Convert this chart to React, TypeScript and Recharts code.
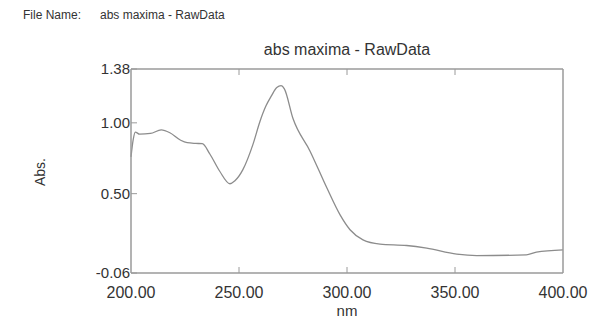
import { LineChart, Line, XAxis, YAxis } from "recharts";

const wavelengths = [
  200, 201, 202, 204, 209, 214, 218, 223, 226, 230, 233, 236.5, 241, 245.8, 248,
  251.8, 256.5, 259.7, 262.5, 265, 267.5, 269.5, 271, 275, 282.9, 290.6, 296.8,
  301.4, 307.4, 315.3, 327.6, 336.9, 350.8, 360, 383, 387.7, 400,
];
const absorbance = [
  0.76, 0.88, 0.935, 0.92, 0.925, 0.95, 0.93, 0.877, 0.86, 0.855, 0.853, 0.78, 0.66,
  0.57, 0.59, 0.67, 0.85, 1.01, 1.12, 1.19, 1.25, 1.262, 1.24, 1.03, 0.8, 0.543,
  0.35, 0.245, 0.174, 0.144, 0.134, 0.115, 0.073, 0.063, 0.068, 0.087, 0.103,
];
const xTicks = [200, 250, 300, 350, 400];
const yTicks = [-0.06, 0.5, 1.0, 1.38];

const data = wavelengths.map((nm, i) => ({ nm, abs: absorbance[i] }));

const GRAY = "#8c8c8c";
const FRAME = "#9a9a9a";
const FONT = "Liberation Sans, Arial, sans-serif";

const BottomTick = (props: any) => {
  const { x, y, payload } = props;
  const inner = payload.value !== 200 && payload.value !== 400;
  return (
    <g>
      {inner && <line x1={x} y1={y} x2={x} y2={y - 6} stroke={FRAME} />}
      <text x={x} y={y + 25} textAnchor="middle" fontSize={16} fill="#333" fontFamily={FONT}>
        {payload.value.toFixed(2)}
      </text>
    </g>
  );
};

const TopTick = (props: any) => {
  const { x, y, payload } = props;
  if (payload.value === 200 || payload.value === 400) return <g />;
  return <line x1={x} y1={y} x2={x} y2={y + 6} stroke={FRAME} />;
};

const LeftTick = (props: any) => {
  const { x, y, payload } = props;
  return (
    <g>
      <line x1={x} y1={y} x2={x + 6} y2={y} stroke={FRAME} />
      <text x={x - 1} y={y + 5} textAnchor="end" fontSize={15} fill="#333" fontFamily={FONT}>
        {payload.value.toFixed(2)}
      </text>
    </g>
  );
};

const RightTick = (props: any) => {
  const { x, y } = props;
  return <line x1={x} y1={y} x2={x - 6} y2={y} stroke={FRAME} />;
};

export default function App() {
  return (
    <div style={{ position: "absolute", left: 0, top: 0, width: 605, height: 325, background: "#fff", fontFamily: FONT }}>
      <svg width={605} height={325} style={{ position: "absolute", left: 0, top: 0 }}>
        <text x={23} y={19} fontSize={12} fill="#333" fontFamily={FONT}>File Name:</text>
        <text x={100} y={19} fontSize={12} fill="#333" fontFamily={FONT}>abs maxima - RawData</text>
        <text x={347} y={55} textAnchor="middle" fontSize={16} fill="#333" fontFamily={FONT}>
          abs maxima - RawData
        </text>
        <text
          x={45}
          y={172}
          textAnchor="middle"
          fontSize={14}
          fill="#333"
          fontFamily={FONT}
          transform="rotate(-90 45 172)"
        >
          Abs.
        </text>
        <text x={347} y={316} textAnchor="middle" fontSize={15} fill="#333" fontFamily={FONT}>
          nm
        </text>
      </svg>
      <div style={{ position: "absolute", left: 0, top: 0 }}>
        <LineChart width={605} height={325} data={data} margin={{ top: 59, right: 32, bottom: 12, left: 71 }}>
          <XAxis
            xAxisId="bottom"
            dataKey="nm"
            type="number"
            domain={[200, 400]}
            ticks={xTicks}
            height={40}
            tickSize={0}
            tickMargin={0}
            tickLine={false}
            axisLine={{ stroke: FRAME, strokeWidth: 1.5 }}
            tick={<BottomTick />}
            interval={0}
          />
          <XAxis
            xAxisId="top"
            orientation="top"
            dataKey="nm"
            type="number"
            domain={[200, 400]}
            ticks={xTicks}
            height={10}
            tickSize={0}
            tickMargin={0}
            tickLine={false}
            axisLine={{ stroke: FRAME, strokeWidth: 1.5 }}
            tick={<TopTick />}
            interval={0}
          />
          <YAxis
            yAxisId="left"
            type="number"
            domain={[-0.06, 1.38]}
            ticks={yTicks}
            width={60}
            tickSize={0}
            tickMargin={0}
            tickLine={false}
            axisLine={{ stroke: FRAME, strokeWidth: 1.5 }}
            tick={<LeftTick />}
            interval={0}
          />
          <YAxis
            yAxisId="right"
            orientation="right"
            type="number"
            domain={[-0.06, 1.38]}
            ticks={yTicks}
            width={10}
            tickSize={0}
            tickMargin={0}
            tickLine={false}
            axisLine={{ stroke: FRAME, strokeWidth: 1.5 }}
            tick={<RightTick />}
            interval={0}
          />
          <Line
            xAxisId="bottom"
            yAxisId="left"
            type="monotone"
            dataKey="abs"
            stroke={GRAY}
            strokeWidth={1.3}
            dot={false}
            isAnimationActive={false}
          />
        </LineChart>
      </div>
    </div>
  );
}
